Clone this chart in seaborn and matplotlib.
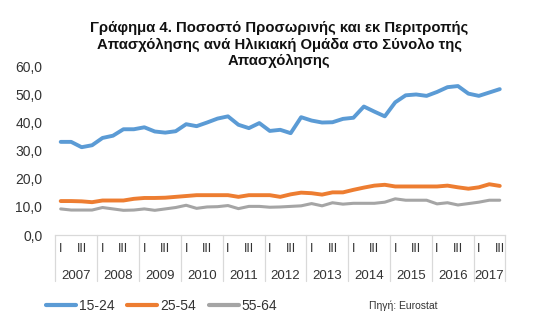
import matplotlib
matplotlib.use("Agg")
import matplotlib.pyplot as plt
from matplotlib.lines import Line2D
import pandas as pd
import seaborn as sns

# Quarterly share (%) of temporary and part-time employment by age group
years = ["2007", "2008", "2009", "2010", "2011", "2012",
         "2013", "2014", "2015", "2016", "2017"]
quarters = ["I", "II", "III", "IV"]
shown_quarters = ["I", "III"]

age_15_24 = [33.2, 33.2, 31.3, 32.0, 34.6, 35.4, 37.7, 37.7, 38.4, 36.9,
             36.5, 37.0, 39.5, 38.8, 40.1, 41.5, 42.3, 39.3, 38.1, 39.9,
             37.1, 37.5, 36.3, 42.0, 40.8, 40.1, 40.2, 41.4, 41.8, 45.8,
             44.0, 42.3, 47.3, 49.8, 50.1, 49.6, 51.0, 52.7, 53.1, 50.4,
             49.6, 50.8, 52.0]
age_25_54 = [12.1, 12.1, 12.0, 11.7, 12.3, 12.3, 12.3, 12.9, 13.2, 13.2,
             13.3, 13.6, 13.9, 14.2, 14.2, 14.2, 14.2, 13.6, 14.2, 14.2,
             14.2, 13.6, 14.5, 15.1, 14.9, 14.4, 15.2, 15.2, 16.1, 16.9,
             17.6, 17.9, 17.3, 17.3, 17.3, 17.3, 17.3, 17.6, 17.0, 16.5,
             17.0, 18.1, 17.5]
age_55_64 = [9.3, 8.9, 8.9, 8.9, 9.8, 9.3, 8.8, 8.9, 9.3, 8.8,
             9.3, 9.8, 10.6, 9.5, 10.0, 10.1, 10.5, 9.4, 10.2, 10.2,
             9.9, 10.0, 10.2, 10.4, 11.2, 10.4, 11.5, 11.0, 11.3, 11.3,
             11.3, 11.7, 12.9, 12.4, 12.4, 12.4, 11.1, 11.5, 10.7, 11.2,
             11.7, 12.4, 12.4]

series_names = ["15-24", "25-54", "55-64"]
series_colors = ["#5B9BD5", "#ED7D31", "#A5A5A5"]
y_ticks = [0, 10, 20, 30, 40, 50, 60]

title = ("Γράφημα 4. Ποσοστό Προσωρινής και εκ Περιτροπής\n"
         "Απασχόλησης ανά Ηλικιακή Ομάδα στο Σύνολο της\n"
         "Απασχόλησης")
source_note = "Πηγή: Eurostat"

n = len(age_15_24)
quarter_of = [q for _ in years for q in quarters][:n]
year_of = [y for y in years for _ in quarters][:n]

wide = pd.DataFrame({"pos": range(n),
                     "15-24": age_15_24,
                     "25-54": age_25_54,
                     "55-64": age_55_64})
df = wide.melt(id_vars="pos", var_name="group", value_name="pct")

sns.set_style("white")
plt.rcParams["font.family"] = ["Liberation Sans", "DejaVu Sans"]
text_color = "#333333"
rule_color = "#D9D9D9"

fig = plt.figure(figsize=(5.35, 3.34), dpi=100)
ax = fig.add_axes([0.1037, 0.2964, 0.8402, 0.5039])

sns.lineplot(data=df, x="pos", y="pct", hue="group", hue_order=series_names,
             palette=dict(zip(series_names, series_colors)),
             linewidth=2.8, legend=False, ax=ax)
ax.lines[2].set_linewidth(2.2)
for ln in ax.lines:
    ln.set_solid_joinstyle("round")
    ln.set_solid_capstyle("round")

ax.set_xlim(-0.5, n - 0.5)
ax.set_ylim(0, 60)
ax.set_xlabel("")
ax.set_ylabel("")

for side in ("top", "right", "left"):
    ax.spines[side].set_visible(False)
ax.spines["bottom"].set_color(rule_color)
ax.spines["bottom"].set_linewidth(0.9)

ax.set_yticks(y_ticks)
ax.set_yticklabels([f"{v:.1f}".replace(".", ",") for v in y_ticks])
ax.set_xticks(range(n))
ax.set_xticklabels([q if q in shown_quarters else "" for q in quarter_of])
ax.tick_params(axis="y", length=0, pad=9.5, labelsize=10, labelcolor=text_color)
ax.tick_params(axis="x", length=0, pad=5.5, labelsize=9, labelcolor=text_color)

# year group labels and separators under the category axis
bounds = [-0.5]
for y in years:
    idx = [i for i, yy in enumerate(year_of) if yy == y]
    bounds.append(idx[-1] + 0.5)
    ax.text((idx[0] + idx[-1]) / 2, -0.245, y, transform=ax.get_xaxis_transform(),
            ha="center", va="center", fontsize=9.5, color=text_color)
for b in bounds:
    ax.plot([b, b], [0, -0.273], transform=ax.get_xaxis_transform(),
            color=rule_color, lw=0.9, clip_on=False)

fig.text(0.5215, 0.936, title, ha="center", va="top", fontsize=10.7,
         fontweight="bold", color="#111111", linespacing=1.2)

handles = [Line2D([0], [0], color=c, lw=3) for c in series_colors]
ax.legend(handles, series_names, loc="center left",
          bbox_to_anchor=(46 / 535, 0.0838), bbox_transform=fig.transFigure,
          ncol=3, frameon=False, fontsize=10, handlelength=2.15,
          handletextpad=0.2, columnspacing=0.95, borderaxespad=0, borderpad=0,
          labelcolor=text_color)
fig.text(369 / 535, 0.0838, source_note, fontsize=7.5, va="center",
         color=text_color)

fig.savefig("out.png", dpi=100)
